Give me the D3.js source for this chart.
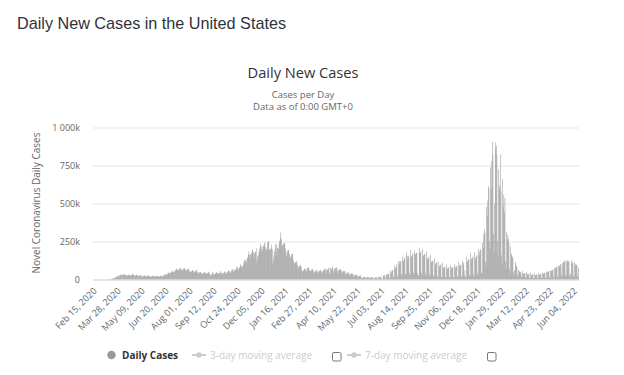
<!DOCTYPE html>
<html>
<head>
<meta charset="utf-8">
<script src="https://cdn.jsdelivr.net/npm/d3@7"></script>
<style>
  body { margin: 0; background: #fff; }
  svg { display: block; }
</style>
</head>
<body>
<div id="chart"></div>
<script>
// daily new cases, in thousands, one row per week (Sat..Fri), first day Feb 15, 2020
var casesWave2020 = [
  0,0,0,0,0,0,0,  0,0,0,0,0,0,0,  0,0,0,0,0,0.1,0.1,
  0.1,0.1,0.2,0.3,0.3,0.4,0.5,  0.8,0.8,1.5,1.8,2.8,4.5,5.6,
  7,9,10,11,13,18,20,  19,20,21,24,27,29,32,  34,26,29,31,32,34,35,
  30,28,26,27,29,31,33,  28,27,28,27,28,31,38,  35,27,23,25,28,30,33,
  29,26,23,24,25,28,28,  25,20,19,22,21,27,27,  24,18,22,21,23,27,26,
  23,20,19,19,20,23,25,  24,20,21,20,20,22,25,  23,18,18,19,21,23,25,
  25,19,20,23,27,28,33,  33,27,31,37,38,40,47,  43,41,42,48,52,55,57,
  50,45,51,61,61,64,72,  65,60,63,68,68,76,76,  65,61,61,67,72,74,75,
  66,57,59,63,71,70,68,  59,48,48,51,55,57,62,  57,48,46,54,55,54,66,
  52,42,38,46,48,47,49,  45,36,36,41,44,45,49,  46,37,37,41,42,46,52,
  44,31,26,30,35,38,49,  39,33,35,38,40,46,48,  42,39,41,42,40,47,56,
  45,35,39,44,42,46,54,  48,36,40,46,52,58,58,  55,48,43,51,61,64,70,
  57,49,66,62,63,76,85,  80,60,69,75,80,92,101,  86,82,85,93,107,122,130,
  129,106,118,140,145,163,185,  163,138,164,164,176,194,196,  179,145,171,180,184,112,205,
  154,138,163,184,202,220,236,  214,180,196,221,224,232,245,  214,189,199,203,247,242,255,
  195,193,199,204,229,198,100,  128,158,183,201,230,234,155
];

// Jan 2 - Dec 31, 2021
var cases2021 = [
  209,210,200,235,255,275,310,  263,215,228,225,237,239,240,  205,180,155,175,190,194,190,
  170,143,150,150,165,170,166,  125,100,112,105,115,118,120,  95,75,80,88,90,95,90,
  80,55,50,60,63,68,72,  71,55,56,73,75,78,79,  62,52,56,57,67,66,68,
  58,41,50,53,56,62,61,  49,34,54,54,58,59,64,  52,35,53,57,60,68,75,
  61,39,69,61,66,77,74,  44,35,76,63,72,80,80,  57,44,71,72,75,79,77,
  55,38,65,62,66,68,65,  55,33,52,50,58,56,55,  38,28,45,42,44,47,45,
  32,22,37,35,41,37,39,  26,17,30,28,29,31,33,  20,14,25,23,24,23,27,
  11,8,9,17,15,18,16,  9,6,17,14,14,15,16,  7,5,15,12,15,15,13,
  5,4,13,12,13,14,15,  5,4,19,12,15,17,20,  6,4,3,23,28,26,30,
  8,5,36,30,33,40,38,  12,8,60,45,52,56,66,  19,11,92,67,80,82,100,
  25,15,120,100,118,115,125,  35,22,150,118,127,136,149,  38,26,180,134,157,149,158,
  41,29,195,142,155,163,175,  45,30,190,165,170,175,175,  43,25,28,210,175,180,185,
  45,28,200,150,160,165,170,  40,25,185,130,140,140,150,  33,21,160,115,120,120,125,
  27,18,140,100,105,110,115,  20,14,115,85,90,95,100,  18,13,110,75,80,82,85,
  17,12,100,70,75,78,80,  16,11,95,70,80,80,82,  18,12,100,72,85,85,90,
  20,14,115,85,95,95,100,  24,17,125,100,110,25,60,  20,14,150,115,125,130,135,
  28,18,175,130,140,145,150,  30,20,180,130,145,150,165,  40,25,200,160,185,200,190,
  45,40,240,210,300,330,310
];

// Jan 1 - Jun 13, 2022
var cases2022 = [
  120,90,480,420,520,615,600,  250,200,737,600,780,904,820,  300,180,500,900,860,880,820,
  250,150,725,600,620,825,580,  160,100,660,480,560,440,535,  120,70,316,260,295,270,240,
  70,40,216,170,160,150,140,  45,25,60,117,100,90,80,  28,18,62,55,50,48,45,
  20,12,55,40,38,40,42,  15,10,48,35,33,36,38,  12,8,45,30,30,32,35,
  10,7,40,28,30,32,33,  10,7,42,30,33,35,40,  12,8,45,38,40,42,45,
  14,9,50,45,55,50,55,  16,10,60,55,60,62,65,  20,12,75,70,80,82,85,
  25,15,90,85,95,100,100,  28,18,110,110,115,120,125,  30,20,120,118,127,120,115,
  28,18,40,125,110,108,110,  25,15,115,100,95,98,95,  22,14,78
];

var tickLabels = ["Feb 15, 2020", "Mar 28, 2020", "May 09, 2020", "Jun 20, 2020",
  "Aug 01, 2020", "Sep 12, 2020", "Oct 24, 2020", "Dec 05, 2020", "Jan 16, 2021",
  "Feb 27, 2021", "Apr 10, 2021", "May 22, 2021", "Jul 03, 2021", "Aug 14, 2021",
  "Sep 25, 2021", "Nov 06, 2021", "Dec 18, 2021", "Jan 29, 2022", "Mar 12, 2022",
  "Apr 23, 2022", "Jun 04, 2022"];
var tickEvery = 42;

var yTicks = [0, 250, 500, 750, 1000];
var yTickLabels = ["0", "250k", "500k", "750k", "1 000k"];

var legendItems = ["Daily Cases", "3-day moving average", "7-day moving average"];

var daily = casesWave2020.concat(cases2021, cases2022);

var W = 624, H = 375;
var plot = { left: 93, right: 579, top: 127.5, bottom: 279.5 };
var font = "'Open Sans', 'DejaVu Sans', sans-serif";

var svg = d3.select("#chart").append("svg")
    .attr("width", W)
    .attr("height", H);

// page heading
svg.append("text")
    .attr("x", 17)
    .attr("y", 29)
    .attr("font-family", "'Liberation Sans', Arial, sans-serif")
    .attr("font-size", "16.2px")
    .attr("fill", "#2e323b")
    .text("Daily New Cases in the United States");

// chart title + subtitle
svg.append("text")
    .attr("x", 303)
    .attr("y", 77.5)
    .attr("text-anchor", "middle")
    .attr("font-family", font)
    .attr("font-size", "14.6px")
    .attr("fill", "#333")
    .text("Daily New Cases");

svg.append("text")
    .attr("x", 303)
    .attr("y", 98)
    .attr("text-anchor", "middle")
    .attr("font-family", font)
    .attr("font-size", "9.5px")
    .attr("fill", "#666")
    .text("Cases per Day");

svg.append("text")
    .attr("x", 303)
    .attr("y", 109.5)
    .attr("text-anchor", "middle")
    .attr("font-family", font)
    .attr("font-size", "9.5px")
    .attr("fill", "#666")
    .text("Data as of 0:00 GMT+0");

// scales
var x = d3.scaleBand()
    .domain(d3.range(daily.length))
    .range([plot.left, plot.right])
    .paddingInner(0.04)
    .paddingOuter(0);

var y = d3.scaleLinear()
    .domain([0, 1000])
    .range([plot.bottom, plot.top]);

// y axis + grid
var yAxisGroup = svg.append("g")
    .attr("transform", "translate(" + plot.left + ",0)")
    .call(d3.axisLeft(y)
        .tickValues(yTicks)
        .tickSize(-(plot.right - plot.left))
        .tickPadding(13)
        .tickFormat(function (d, i) { return yTickLabels[i]; }));

yAxisGroup.select(".domain").remove();
yAxisGroup.selectAll(".tick line")
    .attr("stroke", "#e6e6e6");
yAxisGroup.selectAll(".tick text")
    .attr("font-family", font)
    .attr("font-size", "9px")
    .attr("fill", "#666");

// y title
svg.append("text")
    .attr("transform", "translate(40," + 203 + ") rotate(-90)")
    .attr("text-anchor", "middle")
    .attr("font-family", font)
    .attr("font-size", "10px")
    .attr("fill", "#666")
    .text("Novel Coronavirus Daily Cases");

// bars
svg.append("g")
    .selectAll("rect")
    .data(daily)
    .enter()
    .append("rect")
    .attr("x", function (d, i) { return x(i); })
    .attr("y", function (d) { return y(d); })
    .attr("width", x.bandwidth())
    .attr("height", function (d) { return plot.bottom - y(d); })
    .attr("fill", "#969696");

// x axis
var xAxisGroup = svg.append("g")
    .attr("transform", "translate(0," + plot.bottom + ")")
    .call(d3.axisBottom(x)
        .tickValues(d3.range(0, daily.length, tickEvery))
        .tickSize(0)
        .tickSizeOuter(0)
        .tickFormat(function (d, i) { return tickLabels[i]; }));

xAxisGroup.select(".domain")
    .attr("stroke", "#ccd6eb");
xAxisGroup.selectAll(".tick text")
    .attr("x", 0)
    .attr("y", 0)
    .attr("dy", "0.3em")
    .attr("text-anchor", "end")
    .attr("transform", "translate(2,10) rotate(-45)")
    .attr("font-family", font)
    .attr("font-size", "9.2px")
    .attr("fill", "#666");

// legend
var legend = svg.append("g")
    .attr("font-family", font)
    .attr("font-size", "10px");

legend.append("circle")
    .attr("cx", 111.5)
    .attr("cy", 355)
    .attr("r", 4.2)
    .attr("fill", "#999");

legend.append("text")
    .attr("x", 122)
    .attr("y", 358.5)
    .attr("font-weight", "bold")
    .attr("fill", "#333")
    .text(legendItems[0]);

var lineItems = [
    { x: 192, label: legendItems[1], box: 332 },
    { x: 347, label: legendItems[2], box: 487 }
];

lineItems.forEach(function (item) {
    legend.append("line")
        .attr("x1", item.x)
        .attr("x2", item.x + 14)
        .attr("y1", 355)
        .attr("y2", 355)
        .attr("stroke", "#ccc")
        .attr("stroke-width", 2);
    legend.append("circle")
        .attr("cx", item.x + 7)
        .attr("cy", 355)
        .attr("r", 2.8)
        .attr("fill", "#ccc");
    legend.append("text")
        .attr("x", item.x + 18)
        .attr("y", 358.5)
        .attr("fill", "#ccc")
        .text(item.label);
    legend.append("rect")
        .attr("x", item.box + 0.5)
        .attr("y", 352.5)
        .attr("width", 8.5)
        .attr("height", 8.5)
        .attr("rx", 1.5)
        .attr("fill", "#fff")
        .attr("stroke", "#767676");
});
</script>
</body>
</html>
